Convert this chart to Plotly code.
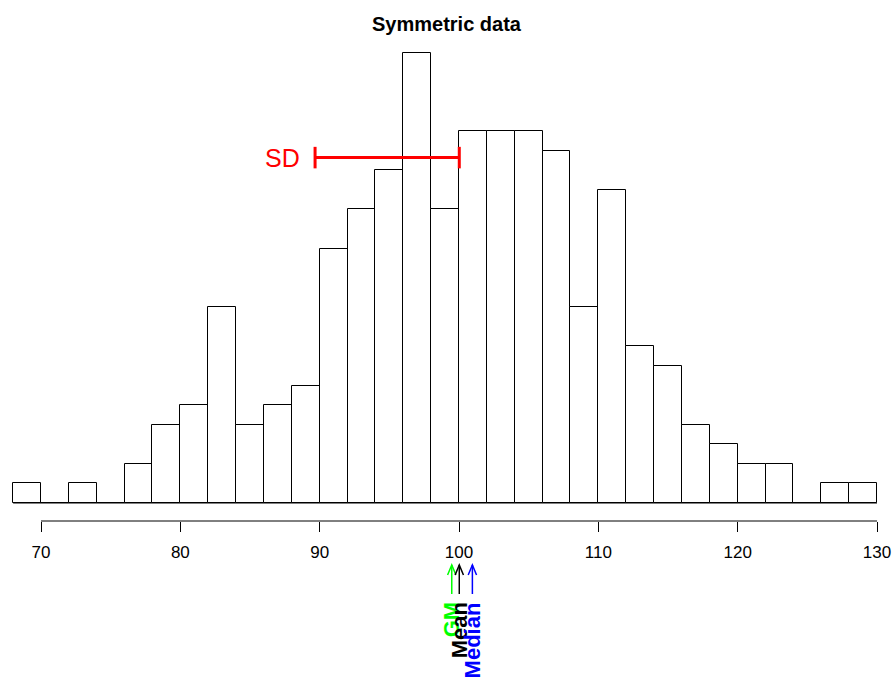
import plotly.graph_objects as go

# Data
bin_left = list(range(68, 130, 2))
bin_width = 2
counts = [1, 0, 1, 0, 2, 4, 5, 10, 4, 5, 6, 13, 15, 17, 23, 15,
          19, 19, 19, 18, 10, 16, 8, 7, 4, 3, 2, 2, 0, 1, 1]
tick_vals = [70, 80, 90, 100, 110, 120, 130]
stat_names = ["GM", "Mean", "Median"]
stat_values = [99.48, 100.02, 100.96]
stat_colors = ["#00FF00", "#000000", "#0000FF"]
sd_value = 10.35
sd_level = 17.65

W, H = 893, 679
ml, mr, mt, mb = 0, 0, 40, 158
x_range = [67.057, 131.148]
y_range = [-0.92, 23.66]
plot_h = H - mt - mb

def px_to_paper_y(py):
    return (H - mb - py) / plot_h

font = "Liberation Sans, Arial, Helvetica, sans-serif"

centers = [b + bin_width / 2 for b in bin_left]
fig = go.Figure()
fig.add_trace(go.Bar(
    x=centers, y=counts, width=[bin_width] * len(counts),
    marker=dict(color="white", line=dict(color="black", width=1)),
    hoverinfo="x+y", showlegend=False,
))

shapes = []
# baseline across all bins
shapes.append(dict(type="line", xref="x", yref="y", x0=bin_left[0], x1=bin_left[-1] + bin_width,
                   y0=0, y1=0, line=dict(color="black", width=1)))
# axis line
shapes.append(dict(type="line", xref="x", yref="paper", x0=tick_vals[0], x1=tick_vals[-1],
                   y0=0, y1=0, line=dict(color="black", width=1)))

# SD bar
mean_v = stat_values[1]
sd_x0 = mean_v - sd_value
cap = 0.55
shapes.append(dict(type="line", xref="x", yref="y", x0=sd_x0, x1=mean_v, y0=sd_level, y1=sd_level,
                   line=dict(color="#FF0000", width=3)))
for xv in [sd_x0, mean_v]:
    shapes.append(dict(type="line", xref="x", yref="y", x0=xv, x1=xv, y0=sd_level - cap, y1=sd_level + cap,
                       line=dict(color="#FF0000", width=3)))

annotations = []
annotations.append(dict(text="SD", x=sd_x0 - 0.95, y=sd_level, xref="x", yref="y",
                        xanchor="right", yanchor="middle", showarrow=False,
                        font=dict(family=font, size=25, color="#FF0000")))

# arrows + labels
head_top = px_to_paper_y(565)
tail = px_to_paper_y(594)
head_dx = 0.3
head_dy = 10 / plot_h
for name, v, c in zip(stat_names, stat_values, stat_colors):
    shapes.append(dict(type="line", xref="x", yref="paper", x0=v, x1=v, y0=tail, y1=head_top,
                       line=dict(color=c, width=1.5)))
    shapes.append(dict(type="path", xref="x", yref="paper",
                       path=f"M {v - head_dx} {head_top - head_dy} L {v} {head_top} L {v + head_dx} {head_top - head_dy}",
                       line=dict(color=c, width=1.5)))
    annotations.append(dict(text=f"<b>{name}</b>", x=v, y=px_to_paper_y(600), xref="x", yref="paper",
                            xanchor="center", yanchor="top", textangle=-90, showarrow=False,
                            font=dict(family=font, size=22, color=c)))

annotations.append(dict(text="<b>Symmetric data</b>", x=0.5, y=px_to_paper_y(24),
                        xref="paper", yref="paper", yanchor="middle",
                        showarrow=False, font=dict(family=font, size=20, color="black")))

fig.update_layout(
    width=W, height=H,
    margin=dict(l=ml, r=mr, t=mt, b=mb, pad=0),
    paper_bgcolor="white", plot_bgcolor="white",
    shapes=shapes, annotations=annotations,
    bargap=0,
    xaxis=dict(range=x_range, tickvals=tick_vals, ticktext=[str(t) for t in tick_vals],
               ticks="outside", ticklen=10, tickcolor="black", tickwidth=1,
               ticklabelstandoff=6,
               showgrid=False, zeroline=False, showline=False,
               tickfont=dict(family=font, size=17, color="black")),
    yaxis=dict(range=y_range, visible=False, showgrid=False, zeroline=False),
    font=dict(family=font),
)

fig.write_html("out.html")
